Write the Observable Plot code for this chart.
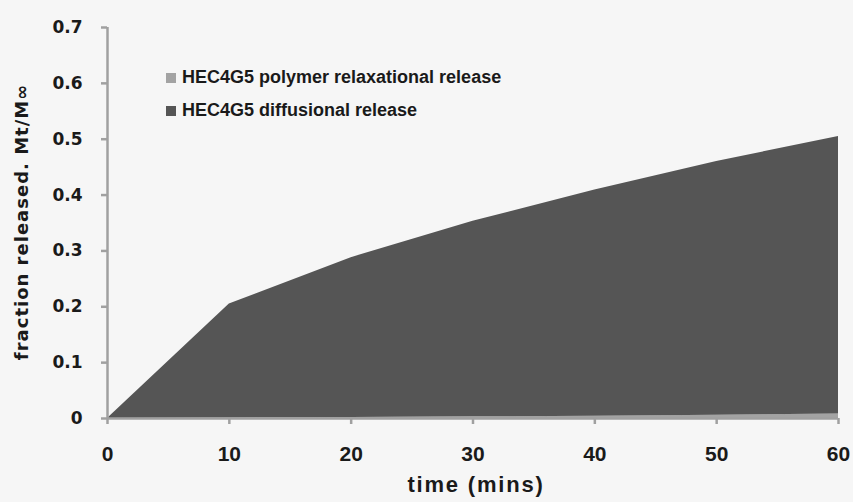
<!DOCTYPE html>
<html>
<head>
<meta charset="utf-8">
<script src="https://cdn.jsdelivr.net/npm/d3@7"></script>
<script src="https://cdn.jsdelivr.net/npm/@observablehq/plot@0.6"></script>
<style>
  html, body { margin: 0; padding: 0; background: #f6f6f6; }
  #wrap { position: relative; width: 853px; height: 502px; }
  .legend { position: absolute; left: 166px; top: 61px; font-family: "Liberation Sans", Arial, sans-serif; font-weight: bold; font-size: 18px; color: #1a1a1a; }
  .legend div { display: flex; align-items: center; height: 33px; }
  .legend span.sw { display: inline-block; width: 10px; height: 10px; margin-right: 6px; }
  .xlab text { letter-spacing: 1.8px; }
  .ylab text { letter-spacing: 1px; }
</style>
</head>
<body>
<div id="wrap"></div>
<script>
const times = [0, 10, 20, 30, 40, 50, 60];
const relaxational = [0, 0.001, 0.002, 0.003, 0.004, 0.006, 0.008];
const diffusional = [0, 0.204, 0.286, 0.350, 0.405, 0.454, 0.497];
const seriesNames = ["HEC4G5 polymer relaxational release", "HEC4G5 diffusional release"];
const seriesColors = ["#a3a3a3", "#555555"];
const xTicks = [0, 10, 20, 30, 40, 50, 60];
const yTicks = [0, 0.1, 0.2, 0.3, 0.4, 0.5, 0.6, 0.7];

const data = [];
times.forEach((t, i) => {
  data.push({t, v: relaxational[i], s: seriesNames[0]});
  data.push({t, v: diffusional[i], s: seriesNames[1]});
});

const font = '"Liberation Sans", Arial, sans-serif';
const dejavu = '"DejaVu Sans", sans-serif';
const chart = Plot.plot({
  width: 853,
  height: 502,
  marginLeft: 107,
  marginRight: 15,
  marginTop: 27,
  marginBottom: 84,
  style: { background: "transparent", fontFamily: font, fontWeight: "bold", fontSize: "17px", color: "#1a1a1a" },
  x: { domain: [0, 60], ticks: xTicks, label: null },
  y: { domain: [0, 0.7], ticks: yTicks, label: null },
  color: { domain: seriesNames, range: seriesColors },
  marks: [
    Plot.areaY(data, { x: "t", y: "v", fill: "s", order: seriesNames, curve: "linear" }),
    Plot.ruleX([0], { stroke: "#a0a0a0", strokeWidth: 2.5 }),
    Plot.ruleY([0], { stroke: "#a0a0a0", strokeWidth: 2.5 }),
    Plot.axisY({ ticks: yTicks, tickSize: 6, tickPadding: 19, stroke: "#a0a0a0", strokeWidth: 2.5,
      tickFormat: d => d === 0 ? "0" : d.toFixed(1), fontSize: 17, fontFamily: dejavu, fontWeight: "bold", fill: "#1a1a1a", label: null }),
    Plot.axisX({ ticks: xTicks, tickSize: 6, tickPadding: 22, stroke: "#a0a0a0", strokeWidth: 2.5,
      tickFormat: d => String(d), fontSize: 21, fontFamily: font, fontWeight: "bold", fill: "#1a1a1a", label: null }),
    Plot.text(["time (mins)"], { frameAnchor: "bottom", dx: 3, dy: 73, text: d => d, fontSize: 22, fontFamily: font, fontWeight: "bold", fill: "#1a1a1a", className: "xlab" }),
    Plot.text(["fraction released. Mt/M\u221E"], { frameAnchor: "left", textAnchor: "middle", dx: -85, dy: -1, rotate: -90, text: d => d, fontSize: 18, fontFamily: dejavu, fontWeight: "bold", fill: "#1a1a1a", className: "ylab" })
  ]
});
const wrap = document.getElementById("wrap");
wrap.appendChild(chart);

const legend = document.createElement("div");
legend.className = "legend";
seriesNames.forEach((n, i) => {
  const row = document.createElement("div");
  const sw = document.createElement("span");
  sw.className = "sw";
  sw.style.background = seriesColors[i];
  row.appendChild(sw);
  row.appendChild(document.createTextNode(n));
  legend.appendChild(row);
});
wrap.appendChild(legend);
</script>
</body>
</html>
